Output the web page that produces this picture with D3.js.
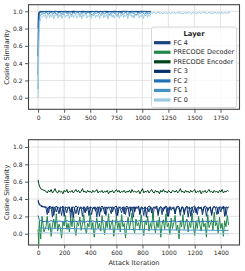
<!DOCTYPE html>
<html lang="en">
<head>
<meta charset="UTF-8">
<title>Cosine Similarity per Layer</title>
<script src="https://d3js.org/d3.v7.min.js"></script>
<style>
  body { margin: 0; background: #fff; }
  text { font-family: "DejaVu Sans", sans-serif; fill: #262626; }
</style>
</head>
<body>
<div id="chart"></div>
<script>
// Layer names in legend order, with their colours
var layers = ["FC 4", "PRECODE Decoder", "PRECODE Encoder", "FC 3", "FC 2", "FC 1", "FC 0"];
var colors = ["#1b4382", "#23894a", "#00441b", "#08306b", "#2171b5", "#4292c6", "#9ecae1"];

// ---- top panel ----
// first points are at these iterations, then one point every `step` iterations from 60
var topHeadIter = [0, 2, 4, 6, 8, 10, 13, 16, 20, 25, 30, 40, 50];
var topSteps = [20, 20, 20, 20, 20, 20, 10];

var topFC4 = [0.80, 0.93, 0.97, 0.985, 0.99, 0.993, 0.995, 0.996, 0.997, 0.997, 0.998, 0.998, 0.998,
  0.998, 0.996, 0.999, 0.997, 0.998, 0.993, 0.998, 0.997, 0.999, 0.996, 0.998, 0.997, 0.992, 0.998, 0.999, 0.997,
  0.998, 0.996, 0.999, 0.998, 0.994, 0.998, 0.997, 0.999, 0.996, 0.998, 0.997, 0.998, 0.993, 0.999, 0.997, 0.998,
  0.996, 0.999, 0.998, 0.997, 0.994, 0.998, 0.999, 0.997, 0.998, 0.996, 0.999, 0.997, 0.998, 0.995, 0.998, 0.999,
  0.997, 0.998, 0.996, 0.999];
var topDecoder = [];
var topEncoder = [];
var topFC3 = [0.48, 0.78, 0.90, 0.95, 0.97, 0.98, 0.988, 0.992, 0.994, 0.995, 0.996, 0.997, 0.997,
  0.997, 0.999, 0.995, 0.998, 0.996, 0.999, 0.997, 0.993, 0.998, 0.997, 0.999, 0.995, 0.998, 0.996, 0.999, 0.997,
  0.994, 0.998, 0.997, 0.999, 0.996, 0.998, 0.992, 0.998, 0.997, 0.999, 0.995, 0.998, 0.997, 0.996, 0.999, 0.994,
  0.998, 0.997, 0.999, 0.996, 0.998, 0.993, 0.998, 0.999, 0.997, 0.995, 0.998, 0.997, 0.999, 0.996, 0.998, 0.997,
  0.999, 0.995, 0.998, 0.997];
var topFC2 = [0.27, 0.55, 0.78, 0.88, 0.93, 0.95, 0.97, 0.98, 0.985, 0.988, 0.99, 0.99, 0.992,
  0.994, 0.990, 0.996, 0.988, 0.995, 0.992, 0.997, 0.985, 0.994, 0.991, 0.996, 0.989, 0.995, 0.993, 0.983, 0.996,
  0.992, 0.995, 0.988, 0.997, 0.991, 0.994, 0.986, 0.995, 0.993, 0.996, 0.989, 0.994, 0.992, 0.997, 0.984, 0.995,
  0.991, 0.996, 0.990, 0.994, 0.993, 0.987, 0.996, 0.992, 0.995, 0.989, 0.997, 0.991, 0.994, 0.986, 0.995, 0.993,
  0.996, 0.990, 0.995, 0.992];
var topFC1 = [0.10, 0.35, 0.60, 0.75, 0.84, 0.89, 0.92, 0.94, 0.95, 0.96, 0.965, 0.97, 0.97,
  0.975, 0.985, 0.960, 0.990, 0.970, 0.982, 0.955, 0.988, 0.975, 0.965, 0.990, 0.972, 0.980, 0.958, 0.986, 0.970,
  0.992, 0.962, 0.978, 0.985, 0.968, 0.990, 0.974, 0.955, 0.983, 0.976, 0.988, 0.965, 0.980, 0.970, 0.991, 0.960,
  0.978, 0.985, 0.972, 0.950, 0.986, 0.975, 0.968, 0.990, 0.963, 0.980, 0.987, 0.970, 0.958, 0.984, 0.976, 0.990,
  0.966, 0.980, 0.972, 0.985];
var topFC0 = [0.00, 0.15, 0.35, 0.52, 0.65, 0.74, 0.82, 0.87, 0.90, 0.92, 0.93, 0.94, 0.95,
  0.940, 0.965, 0.915, 0.950, 0.975, 0.925, 0.960, 0.935, 0.970, 0.912,
  0.955, 0.945, 0.980, 0.920, 0.962, 0.938, 0.972, 0.918, 0.950, 0.968,
  0.930, 0.958, 0.942, 0.976, 0.915, 0.960, 0.935, 0.970, 0.925, 0.952,
  0.965, 0.920, 0.948, 0.978, 0.932, 0.958, 0.914, 0.966, 0.940, 0.955,
  0.972, 0.922, 0.950, 0.936, 0.968, 0.918, 0.960, 0.945, 0.974, 0.928,
  0.956, 0.940, 0.970, 0.915, 0.962, 0.948, 0.980, 0.925, 0.955, 0.938,
  0.968, 0.912, 0.958, 0.945, 0.975, 0.930, 0.962, 0.920, 0.950, 0.972,
  0.935, 0.960, 0.918, 0.966, 0.942, 0.978, 0.926, 0.955, 0.940, 0.970,
  0.915, 0.962, 0.948, 0.975, 0.932, 0.958, 0.920, 0.968, 0.944, 0.956,
  0.978, 0.925, 0.952, 0.938, 0.970, 0.916, 0.960, 0.946, 0.974, 0.930,
  0.958, 0.942, 0.968,
  0.985, 0.975, 0.992, 0.980, 0.970, 0.988, 0.978, 0.994, 0.972, 0.986,
  0.980, 0.968, 0.990, 0.976, 0.984, 0.970, 0.992, 0.978, 0.966, 0.988,
  0.982, 0.974, 0.990, 0.970, 0.985, 0.978, 0.993, 0.972, 0.984, 0.976,
  0.968, 0.989, 0.980, 0.974, 0.991, 0.977, 0.985, 0.980, 0.970, 0.987,
  0.975, 0.992, 0.982, 0.968, 0.986, 0.978, 0.990, 0.972, 0.984, 0.980,
  0.994, 0.976, 0.986, 0.970, 0.982, 0.990, 0.974, 0.985, 0.967, 0.988,
  0.979, 0.992, 0.973, 0.984, 0.977, 0.990, 0.969, 0.986, 0.981, 0.975,
  0.989, 0.978, 0.984, 0.972, 0.991, 0.980];

// ---- bottom panel ----
var botHeadIter = [0, 5, 10, 20, 30, 45];
var botSteps = [10, 10, 10, 10, 20, 20, 20];

var botFC4 = [0.37, 0.35, 0.33, 0.32, 0.31, 0.31,
  0.30, 0.22, 0.31, 0.29, 0.30, 0.19, 0.31, 0.30, 0.25, 0.31,
  0.29, 0.30, 0.21, 0.31, 0.30, 0.29, 0.24, 0.31, 0.30, 0.18,
  0.30, 0.31, 0.29, 0.23, 0.30, 0.31, 0.29, 0.30, 0.20, 0.31,
  0.30, 0.26, 0.30, 0.29, 0.31, 0.22, 0.30, 0.29, 0.31, 0.19,
  0.30, 0.31, 0.25, 0.30, 0.29, 0.31, 0.21, 0.30, 0.30, 0.28,
  0.23, 0.31, 0.30, 0.29, 0.20, 0.30, 0.31, 0.29, 0.24, 0.30,
  0.31, 0.22, 0.30, 0.29, 0.31, 0.26, 0.30, 0.19, 0.31, 0.30,
  0.29, 0.31, 0.23, 0.30, 0.30, 0.21, 0.31, 0.29, 0.30, 0.25,
  0.31, 0.30, 0.18, 0.30, 0.31, 0.29, 0.24, 0.30, 0.31, 0.22,
  0.30, 0.29, 0.31, 0.20, 0.30, 0.31, 0.27, 0.30, 0.29, 0.23,
  0.31, 0.30, 0.29, 0.21, 0.31, 0.30, 0.25, 0.30, 0.31, 0.19,
  0.30, 0.29, 0.31, 0.24, 0.30, 0.30, 0.22, 0.31, 0.29, 0.30,
  0.26, 0.31, 0.30, 0.20, 0.30, 0.29, 0.31, 0.23, 0.30, 0.31,
  0.29, 0.22, 0.30, 0.31, 0.25, 0.30, 0.29, 0.31, 0.21, 0.30,
  0.30];
var botDecoder = [0.05, -0.12, 0.15, -0.06, 0.20, 0.02,
  0.08, 0.20, 0.04, 0.12, -0.03, 0.10, 0.17, 0.06, 0.23, 0.03,
  0.11, 0.07, -0.05, 0.14, 0.09, 0.21, 0.05, 0.12, 0.02, 0.18,
  0.08, 0.25, 0.06, -0.02, 0.13, 0.09, 0.19, 0.04, 0.11, 0.22,
  0.07, 0.00, 0.12, 0.08, 0.24, 0.05, 0.13, -0.04, 0.10, 0.18,
  0.06, 0.12, 0.03, 0.21, 0.09, -0.01, 0.14, 0.07, 0.23, 0.05,
  0.11, 0.16, -0.03, 0.09, 0.20, 0.06, 0.13, 0.02, 0.22, 0.08,
  0.12, -0.05, 0.10, 0.19, 0.05, 0.14, 0.24, 0.07, 0.01, 0.17,
  0.09, 0.13, 0.04, 0.22, 0.08, -0.02, 0.15, 0.10, 0.20, 0.03,
  0.12, 0.06, 0.25, 0.09, 0.01, 0.14, 0.07, 0.19, -0.04, 0.11,
  0.16, 0.05, 0.23, 0.08, 0.12, -0.01, 0.18, 0.06, 0.13, 0.21,
  0.04, 0.10, -0.06, 0.15, 0.08, 0.22, 0.05, 0.12, 0.17, 0.02,
  0.13, 0.07, 0.24, 0.09, -0.02, 0.14, 0.06, 0.20, 0.10, 0.03,
  0.18, 0.08, 0.12, -0.04, 0.22, 0.07, 0.11, 0.16, 0.04, 0.25,
  0.09, 0.13, 0.01, 0.19, 0.06, 0.12, -0.03, 0.15, 0.08, 0.21,
  0.10];
var botEncoder = [0.62, 0.58, 0.55, 0.52, 0.51, 0.50,
  0.49, 0.47, 0.50, 0.48, 0.51, 0.47, 0.49, 0.52, 0.48, 0.47,
  0.50, 0.48, 0.49, 0.46, 0.50, 0.48, 0.51, 0.47, 0.49, 0.48,
  0.50, 0.47, 0.49, 0.51, 0.48, 0.50, 0.47, 0.49, 0.52, 0.48,
  0.49, 0.47, 0.50, 0.48, 0.49, 0.47, 0.50, 0.48, 0.49, 0.51,
  0.47, 0.49, 0.48, 0.50, 0.47, 0.49, 0.48, 0.50, 0.46, 0.49,
  0.48, 0.50, 0.47, 0.49, 0.51, 0.48, 0.50, 0.47, 0.49, 0.48,
  0.50, 0.47, 0.49, 0.48, 0.50, 0.47, 0.51, 0.48, 0.49, 0.48,
  0.48, 0.50, 0.46, 0.49, 0.52, 0.47, 0.49, 0.48, 0.50, 0.47,
  0.49, 0.51, 0.48, 0.47, 0.50, 0.48, 0.49, 0.46, 0.50, 0.48,
  0.51, 0.48, 0.49, 0.47, 0.50, 0.48, 0.47, 0.50, 0.49, 0.48,
  0.50, 0.47, 0.49, 0.52, 0.48, 0.49, 0.47, 0.50, 0.48, 0.49,
  0.47, 0.50, 0.48, 0.49, 0.51, 0.47, 0.49, 0.48, 0.50, 0.46,
  0.49, 0.48, 0.50, 0.47, 0.49, 0.51, 0.48, 0.49, 0.47, 0.50,
  0.48, 0.49, 0.47, 0.50, 0.48, 0.51, 0.47, 0.49, 0.48, 0.50,
  0.49];
var botFC3 = [0.39, 0.36, 0.34, 0.33, 0.32, 0.31,
  0.31, 0.30, 0.24, 0.32, 0.30, 0.31, 0.21, 0.30, 0.32, 0.29,
  0.23, 0.31, 0.30, 0.32, 0.20, 0.31, 0.30, 0.29, 0.31, 0.25,
  0.31, 0.19, 0.30, 0.32, 0.31, 0.22, 0.30, 0.31, 0.29, 0.31,
  0.24, 0.30, 0.32, 0.21, 0.31, 0.30, 0.29, 0.31, 0.26, 0.30,
  0.31, 0.20, 0.30, 0.32, 0.30, 0.23, 0.31, 0.29, 0.31, 0.30,
  0.31, 0.25, 0.30, 0.31, 0.32, 0.21, 0.30, 0.31, 0.29, 0.31,
  0.23, 0.30, 0.32, 0.30, 0.20, 0.31, 0.30, 0.31, 0.25, 0.31,
  0.30, 0.32, 0.22, 0.31, 0.30, 0.29, 0.31, 0.19, 0.30, 0.32,
  0.31, 0.24, 0.30, 0.31, 0.29, 0.32, 0.21, 0.30, 0.31, 0.30,
  0.26, 0.31, 0.32, 0.30, 0.20, 0.31, 0.30, 0.29, 0.31, 0.23,
  0.30, 0.32, 0.31, 0.25, 0.30, 0.31, 0.22, 0.30, 0.32, 0.29,
  0.31, 0.20, 0.30, 0.31, 0.32, 0.24, 0.30, 0.31, 0.29, 0.31,
  0.22, 0.30, 0.32, 0.31, 0.26, 0.30, 0.31, 0.21, 0.30, 0.32,
  0.30, 0.31, 0.23, 0.30, 0.31, 0.29, 0.32, 0.20, 0.31, 0.30,
  0.31];
var botFC2 = [0.21, 0.18, 0.16, 0.15, 0.145, 0.14,
  0.145, 0.138, 0.150, 0.140, 0.135, 0.147, 0.142, 0.136, 0.149, 0.141, 0.137, 0.146, 0.139, 0.151, 0.140, 0.134,
  0.145, 0.141, 0.148, 0.136, 0.143, 0.139, 0.150, 0.137, 0.144, 0.140, 0.147, 0.135, 0.142, 0.149, 0.138, 0.144,
  0.140, 0.146, 0.136, 0.143, 0.150, 0.139, 0.141, 0.147, 0.135, 0.144, 0.140, 0.148, 0.137, 0.142, 0.146, 0.138,
  0.143, 0.149, 0.136, 0.141, 0.145, 0.139, 0.147, 0.137, 0.143, 0.140, 0.148, 0.136, 0.142, 0.145, 0.139, 0.144,
  0.141, 0.140, 0.146];
var botFC1 = [0.080, 0.075, 0.070, 0.068, 0.066, 0.065,
  0.064, 0.062, 0.065, 0.061, 0.063, 0.060, 0.062, 0.059, 0.061, 0.058, 0.060, 0.057, 0.059, 0.056, 0.058, 0.055,
  0.057, 0.055, 0.056, 0.054, 0.055, 0.053, 0.055, 0.052, 0.054, 0.051, 0.053, 0.050, 0.052, 0.050, 0.051, 0.049,
  0.050, 0.048, 0.050, 0.047, 0.049, 0.047, 0.048, 0.046, 0.048, 0.045, 0.047, 0.045, 0.046, 0.044, 0.046, 0.043,
  0.045, 0.043, 0.044, 0.042, 0.044, 0.042, 0.043, 0.041, 0.043, 0.041, 0.042, 0.040, 0.042, 0.040, 0.041, 0.039,
  0.041, 0.039, 0.040, 0.038, 0.040, 0.038, 0.039];
var botFC0 = [0.030, 0.022, 0.016, 0.012, 0.010, 0.008,
  0.012, 0.010, 0.011, 0.009, 0.010, 0.008, 0.009, 0.008, 0.007, 0.008, 0.006, 0.007, 0.005, 0.006, 0.005, 0.004,
  0.005, 0.004, 0.003, 0.004, 0.003, 0.002, 0.003, 0.002, 0.001, 0.002, 0.001, 0.000, 0.001, 0.000, 0.002, -0.001,
  0.001, 0.000, 0.002, 0.000, -0.001, 0.001, 0.000, 0.002, -0.001, 0.000, 0.001, -0.002, 0.001, 0.000, 0.002, -0.001,
  0.000, 0.001, -0.001, 0.002, 0.000, -0.002, 0.001, 0.000, 0.001, -0.001, 0.002, 0.000, -0.001, 0.001, 0.000, -0.002,
  0.001, 0.000, 0.002, -0.001, 0.000, 0.001, 0.000];

var topXTicks = [0, 250, 500, 750, 1000, 1250, 1500, 1750];
var botXTicks = [0, 200, 400, 600, 800, 1000, 1200, 1400];
var yTicks = [0.0, 0.2, 0.4, 0.6, 0.8, 1.0];

var w = 245, h = 271;
var svg = d3.select("#chart").append("svg").attr("width", w).attr("height", h);

// iteration of the i-th recorded point of a series
function iterFor(i, head, step) {
    return i < head.length ? head[i] : 60 + (i - head.length) * step;
}

function drawPanel(cfg) {
    var x = d3.scaleLinear().domain(cfg.xDomain).range([28.5, 239.5]);
    var y = d3.scaleLinear().domain(cfg.yDomain).range([cfg.bottom, cfg.top]);
    var g = svg.append("g");

    // grid
    g.selectAll(".gx").data(cfg.xTicks).enter().append("line")
        .attr("x1", d => x(d)).attr("x2", d => x(d))
        .attr("y1", cfg.top).attr("y2", cfg.bottom)
        .attr("stroke", "#dcdcdc").attr("stroke-width", 0.8);
    g.selectAll(".gy").data(yTicks).enter().append("line")
        .attr("x1", 28.5).attr("x2", 239.5)
        .attr("y1", d => y(d)).attr("y2", d => y(d))
        .attr("stroke", "#dcdcdc").attr("stroke-width", 0.8);

    // lines
    var clip = "clip" + cfg.id;
    svg.append("clipPath").attr("id", clip).append("rect")
        .attr("x", 28.5).attr("y", cfg.top).attr("width", 211).attr("height", cfg.bottom - cfg.top);
    g.append("g").attr("clip-path", "url(#" + clip + ")")
        .selectAll("path").data(cfg.series).enter().append("path")
        .attr("d", function(d, k) {
            if (!d.length) return null;
            var line = d3.line()
                .x((v, i) => x(iterFor(i, cfg.head, cfg.steps[k])))
                .y(v => y(v));
            return line(d);
        })
        .attr("fill", "none")
        .attr("stroke", (d, i) => colors[i])
        .attr("stroke-width", 1)
        .attr("stroke-linejoin", "round");

    // axes
    var xAxis = d3.axisBottom(x).tickValues(cfg.xTicks).tickSize(3.5).tickPadding(2.5).tickFormat(d3.format("d"));
    var yAxis = d3.axisLeft(y).tickValues(yTicks).tickSize(3.5).tickPadding(2.5).tickFormat(d3.format(".1f"));
    var gx = g.append("g").attr("transform", "translate(0," + cfg.bottom + ")").call(xAxis);
    var gy = g.append("g").attr("transform", "translate(28.5,0)").call(yAxis);
    [gx, gy].forEach(function(a) {
        a.select(".domain").remove();
        a.selectAll("line").attr("stroke", "#333").attr("stroke-width", 0.8);
        a.selectAll("text").attr("font-size", "6px").attr("fill", "#262626")
            .attr("font-family", "DejaVu Sans, sans-serif");
    });

    // frame
    g.append("rect")
        .attr("x", 28.5).attr("y", cfg.top)
        .attr("width", 211).attr("height", cfg.bottom - cfg.top)
        .attr("fill", "none").attr("stroke", "#444").attr("stroke-width", 1.1);

    g.append("text")
        .attr("transform", "translate(7," + ((cfg.top + cfg.bottom) / 2) + ") rotate(-90)")
        .attr("text-anchor", "middle").attr("dominant-baseline", "central")
        .attr("font-size", "6.6px")
        .text("Cosine Similarity");
}

drawPanel({
    id: "top", top: 4.7, bottom: 109.3,
    xDomain: [-92, 1932], yDomain: [-0.134, 1.076], xTicks: topXTicks,
    head: topHeadIter, steps: topSteps,
    series: [topFC4, topDecoder, topEncoder, topFC3, topFC2, topFC1, topFC0]
});

drawPanel({
    id: "bot", top: 139.7, bottom: 245,
    xDomain: [-73.5, 1543.5], yDomain: [-0.13, 1.084], xTicks: botXTicks,
    head: botHeadIter, steps: botSteps,
    series: [botFC4, botDecoder, botEncoder, botFC3, botFC2, botFC1, botFC0]
});

svg.append("text")
    .attr("x", 134).attr("y", 262.5)
    .attr("text-anchor", "middle").attr("dominant-baseline", "central")
    .attr("font-size", "6.6px")
    .text("Attack Iteration");

// legend
var legend = svg.append("g");
legend.append("rect")
    .attr("x", 151.5).attr("y", 27).attr("width", 85).attr("height", 80.5).attr("rx", 2)
    .attr("fill", "white").attr("fill-opacity", 0.8)
    .attr("stroke", "#cccccc").attr("stroke-width", 0.8);
legend.append("text")
    .attr("x", 194).attr("y", 33.5)
    .attr("text-anchor", "middle").attr("dominant-baseline", "central")
    .attr("font-size", "6.8px").attr("font-weight", "bold")
    .text("Layer");
var items = legend.selectAll(".item").data(layers).enter().append("g")
    .attr("transform", (d, i) => "translate(0," + (42.7 + i * 9.55) + ")");
items.append("line")
    .attr("x1", 154).attr("x2", 170.5)
    .attr("stroke", (d, i) => colors[i]).attr("stroke-width", 3.2);
items.append("text")
    .attr("x", 173.5).attr("dominant-baseline", "central")
    .attr("font-size", "6.5px")
    .text(d => d);
</script>
</body>
</html>
